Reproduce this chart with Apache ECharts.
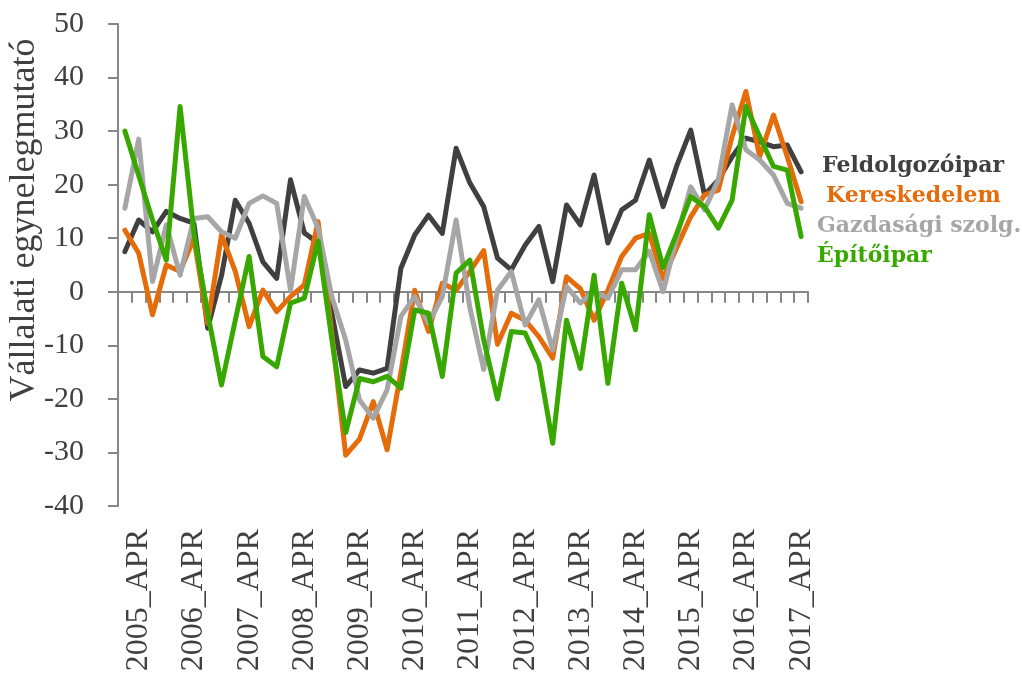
<!DOCTYPE html>
<html>
<head>
<meta charset="utf-8">
<script src="https://cdn.jsdelivr.net/npm/echarts@6/dist/echarts.min.js"></script>
<style>
html,body{margin:0;padding:0;background:#fff;}
#chart{width:1022px;height:676px;}
</style>
</head>
<body>
<div id="chart"></div>
<script>
const years = [2005,2006,2007,2008,2009,2010,2011,2012,2013,2014,2015,2016,2017];
const quarters = ['JAN','APR','JUL','OCT'];
const categories = [];
years.forEach(y => quarters.forEach(q => categories.push(y + '_' + q)));
categories.length = 50; // 2005_JAN ... 2017_APR

const seriesNames = ['Feldolgozóipar','Kereskedelem','Gazdasági szolg.','Építőipar'];

const feldolgozoipar = [7.5,13.4,11.2,15,13.7,12.8,-6.8,3,17.1,12.8,5.6,2.5,20.9,11,9.1,-4,-17.7,-14.6,-15.2,-14.3,4.4,10.6,14.3,10.9,26.8,20.3,15.9,6.3,4.1,8.7,12.2,1.9,16.2,12.5,21.8,9.1,15.3,17.1,24.6,15.9,23.6,30.2,18.1,20.9,25.2,28.7,28,27.1,27.4,22.4];
const kereskedelem = [11.5,7.2,-4.3,5,3.8,10,-5.9,10.6,3.8,-6.5,0.3,-3.7,-0.9,1.3,13.1,-8,-30.5,-27.5,-20.5,-29.5,-15,0.3,-7.4,1.6,0.3,3.8,7.7,-9.8,-4,-5.3,-8.4,-12.4,2.8,0.6,-5.3,0.3,6.6,10,10.9,2.4,8.3,14,18.1,19,29,37.4,25.2,33,25.2,16.8];
const gazdasagi = [15.6,28.5,1.9,12.5,3.1,13.7,14,11.2,10,16.5,17.9,16.5,0.3,17.8,11.9,-1,-9,-20.2,-23.6,-18.3,-4.6,-0.9,-5.9,-0.9,13.4,-3,-14.5,0.3,3.8,-6.2,-1.5,-10.9,1,-2.1,0,-1.2,4.1,4.1,7.6,0,10.3,19.6,15.3,20.9,34.9,26.5,24.6,21.8,16.5,15.6];
const epitoipar = [30,21.7,13.4,5.9,34.6,11,-4,-17.4,-5.3,6.6,-12.1,-14,-2.1,-1.2,9.5,-9,-26.3,-16.2,-16.8,-15.8,-18,-3.4,-4,-15.8,3.5,5.9,-9,-20,-7.4,-7.7,-13.4,-28.3,-5.3,-14.3,3.1,-17.1,1.6,-7.1,14.4,4.5,11,17.8,15.9,11.9,17.1,34.6,29,23.4,22.7,10.3];

const yTitle = 'Vállalati egynelegmutató';
const colors = ['#404040','#E46C0A','#A6A6A6','#38A800'];
const seriesData = [feldolgozoipar, kereskedelem, gazdasagi, epitoipar];

const chart = echarts.init(document.getElementById('chart'));
const axisColor = '#868686';
const serif = '"Liberation Serif", serif';

chart.setOption({
  animation: false,
  grid: {left: 118, right: 214, top: 24, bottom: 170, containLabel: false},
  legend: {
    orient: 'vertical', left: 807, top: 150, icon: 'none',
    itemWidth: 0, itemHeight: 22, itemGap: 8, selectedMode: false,
    textStyle: {fontFamily: '"DejaVu Serif", serif', fontWeight: 'bold', fontSize: 22},
    data: seriesNames.map((n, i) => ({
      name: n,
      textStyle: {color: colors[i], padding: [0, 0, 0, [5, 9, 0, 0][i]]}
    }))
  },
  graphic: [{
    type: 'text', x: 25, y: 220, rotation: Math.PI / 2,
    style: {text: yTitle, font: '36px "Liberation Serif"', fill: '#404040', align: 'center', verticalAlign: 'middle'}
  }],
  xAxis: [
    {
      type: 'category', data: categories, position: 'bottom', boundaryGap: true,
      axisLine: {show: false, onZero: false}, axisTick: {show: false},
      axisLabel: {interval: (i) => i % 4 === 1, rotate: 90, margin: 23,
        fontFamily: serif, fontSize: 32, color: '#404040'}
    },
    {
      type: 'category', data: categories, position: 'top', boundaryGap: true,
      axisLine: {show: true, onZero: true, lineStyle: {color: axisColor, width: 2}},
      axisTick: {show: true, interval: 0, inside: true, length: 11, lineStyle: {color: axisColor, width: 2}},
      axisLabel: {show: false}
    }
  ],
  yAxis: {
    type: 'value', min: -40, max: 50, interval: 10,
    axisLine: {show: true, lineStyle: {color: axisColor, width: 2}},
    axisTick: {show: true, length: 10, lineStyle: {color: axisColor, width: 2}},
    splitLine: {show: false},
    axisLabel: {margin: 34, fontFamily: serif, fontSize: 30, color: '#404040'}
  },
  series: seriesNames.map((n, i) => ({
    name: n, type: 'line', xAxisIndex: 0, data: seriesData[i],
    showSymbol: false, symbol: 'none',
    lineStyle: {color: colors[i], width: 5, join: 'round', cap: 'round'},
    itemStyle: {color: colors[i]},
    z: 2 + i
  }))
});
</script>
</body>
</html>
